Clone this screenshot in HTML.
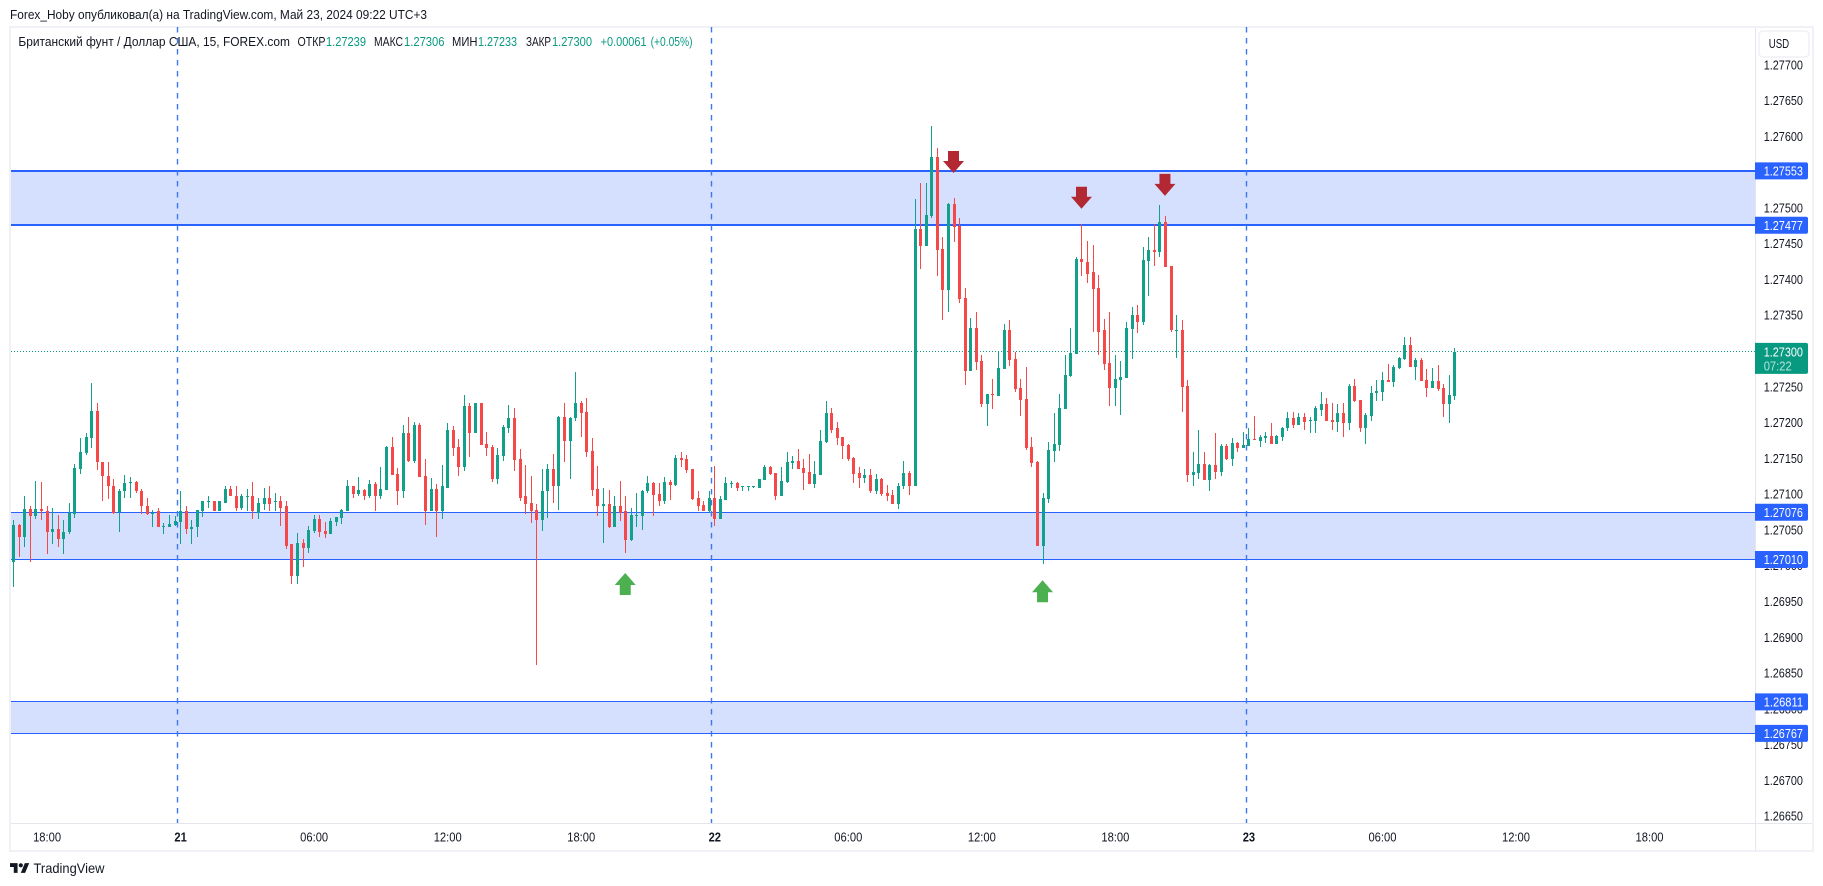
<!DOCTYPE html>
<html lang="ru">
<head>
<meta charset="utf-8">
<title>GBP/USD 15m chart</title>
<style>
html,body{margin:0;padding:0;background:#fff;width:1823px;height:886px;overflow:hidden}
svg{display:block}
text{font-family:"Liberation Sans","Noto Sans CJK SC",sans-serif;font-size:13px;fill:#131722}
</style>
</head>
<body>
<svg id="chart" xmlns="http://www.w3.org/2000/svg" width="1823" height="886" viewBox="0 0 1823 886">
  <rect x="0" y="0" width="1823" height="886" fill="#ffffff"/>
  <text x="10" y="19" textLength="417" lengthAdjust="spacingAndGlyphs">Forex_Hoby опубликовал(а) на TradingView.com, Май 23, 2024 09:22 UTC+3</text>
  <rect x="10" y="27" width="1803" height="824" fill="#ffffff" stroke="#eff1f6" stroke-width="2"/>
  <g id="bands"></g>
  <g id="dayLines"></g>
  <g id="lastLine"></g>
  <g id="candles"></g>
  <g id="arrows"></g>
  <g>
    <text x="18.4" y="46" textLength="271.6" lengthAdjust="spacingAndGlyphs">Британский фунт / Доллар США, 15, FOREX.com</text>
    <text x="297.5" y="46" textLength="28" lengthAdjust="spacingAndGlyphs">ОТКР</text>
    <text x="326" y="46" textLength="40" lengthAdjust="spacingAndGlyphs" style="fill:#089981">1.27239</text>
    <text x="374" y="46" textLength="29" lengthAdjust="spacingAndGlyphs">МАКС</text>
    <text x="404" y="46" textLength="40.5" lengthAdjust="spacingAndGlyphs" style="fill:#089981">1.27306</text>
    <text x="452" y="46" textLength="25.5" lengthAdjust="spacingAndGlyphs">МИН</text>
    <text x="478" y="46" textLength="39" lengthAdjust="spacingAndGlyphs" style="fill:#089981">1.27233</text>
    <text x="526" y="46" textLength="25" lengthAdjust="spacingAndGlyphs">ЗАКР</text>
    <text x="552" y="46" textLength="40" lengthAdjust="spacingAndGlyphs" style="fill:#089981">1.27300</text>
    <text x="600.6" y="46" textLength="46" lengthAdjust="spacingAndGlyphs" style="fill:#089981">+0.00061</text>
    <text x="650.6" y="46" textLength="42" lengthAdjust="spacingAndGlyphs" style="fill:#089981">(+0.05%)</text>
  </g>
  <rect x="1755" y="28" width="57" height="795" fill="#ffffff"/>
  <rect x="1755" y="28" width="1" height="822" fill="#e4e6ec"/>
  <rect x="11" y="823" width="1801" height="1" fill="#e4e6ec"/>
  <g id="priceAxis"></g>
  <g id="priceTags"></g>
  <g id="timeAxis"></g>
  <g>
    <rect x="1759" y="31" width="50" height="26" rx="4" fill="#ffffff" stroke="#e8eaf0"/>
    <text x="1768.7" y="48" textLength="20.5" lengthAdjust="spacingAndGlyphs">USD</text>
  </g>
  <g>
    <path transform="translate(10,861) scale(0.54)" fill="#131722" d="M14 22H7V11H0V4h14v18zM28 22h-8l7.5-18h8L28 22z"/>
    <circle cx="20.8" cy="865.3" r="2.1" fill="#131722"/>
    <text x="33.5" y="873" textLength="71" lengthAdjust="spacingAndGlyphs" style="font-size:14px">TradingView</text>
  </g>
</svg>
<script>
// All OHLC series are in points (0.00001) above the base price 1.27000.
const basePrice = 1.27;
const pointSize = 0.00001;
const highs = [
65,60,98,85,120,118,85,82,72,65,
89,144,180,187,257,228,146,146,123,109,
128,125,120,109,96,79,82,61,72,71,
105,84,65,79,91,98,91,92,112,112,
112,102,109,118,96,110,112,103,98,92,
31,47,39,57,72,72,63,68,70,81,
121,113,125,109,121,118,139,169,181,138,
198,209,202,200,151,124,116,142,201,197,
179,240,229,229,229,188,170,166,198,226,
222,165,142,127,88,137,144,158,211,229,
209,272,232,235,180,141,110,107,98,120,
98,82,103,107,127,118,117,125,121,156,
160,156,137,105,91,105,141,99,125,120,
118,113,113,113,123,142,141,131,139,160,
155,165,151,158,148,191,232,222,202,181,
172,153,139,137,137,130,124,114,107,117,
148,134,513,536,536,616,585,461,508,515,
487,390,348,356,296,241,262,300,339,344,
300,262,279,181,148,103,174,215,241,295,
334,433,479,455,450,408,346,356,295,288,
342,363,366,446,461,479,506,490,420,352,
345,261,160,191,160,144,187,172,172,180,
174,188,193,211,184,188,200,184,195,216,
216,214,214,209,225,244,236,229,227,229,
255,262,233,215,253,261,272,283,282,293,
321,321,292,292,276,278,282,255,268,306];
const lows = [
-28,14,27,7,67,65,17,31,28,18,
45,68,130,156,166,135,92,95,74,48,
96,96,103,74,72,56,55,46,56,57,
31,46,31,42,69,82,77,78,89,98,
77,79,77,67,67,79,78,77,57,25,
-25,-24,0,19,47,42,40,46,57,60,
77,96,98,93,96,77,95,107,128,86,
96,146,145,125,58,77,42,67,110,155,
127,134,153,186,170,155,118,116,148,187,
134,91,74,61,-137,50,68,89,79,146,
123,204,181,153,99,71,33,54,56,64,
19,36,56,51,103,71,85,88,93,113,
139,131,93,78,77,75,57,67,93,110,
105,106,105,110,110,121,128,93,99,117,
137,137,107,116,110,128,173,186,170,151,
148,117,110,117,103,102,99,91,88,81,
109,100,113,416,448,487,406,345,356,453,
369,254,274,275,223,197,220,239,276,281,
244,211,163,139,29,4,89,146,162,220,
265,297,406,397,328,296,275,225,225,212,
264,290,327,338,378,420,433,418,328,292,
216,118,113,123,121,105,123,127,149,141,
160,166,169,177,167,173,172,172,176,190,
193,198,191,187,186,211,204,191,188,181,
191,230,188,172,204,232,232,258,251,276,
289,279,261,260,237,250,246,209,201,233];
const opens = [
6,58,42,81,71,81,78,48,53,39,
48,74,137,159,180,218,146,127,113,76,
105,117,118,106,85,74,77,56,56,58,
63,77,52,55,78,90,91,78,89,109,
99,82,98,99,75,88,96,90,91,84,
31,-13,33,26,50,67,50,46,63,68,
78,112,102,107,98,116,99,107,167,130,
106,187,148,198,127,77,109,78,110,191,
167,139,225,186,228,172,167,123,155,194,
207,151,98,89,79,65,105,137,113,209,
176,207,228,216,162,109,84,88,56,84,
77,37,71,71,105,117,102,91,118,114,
152,151,137,96,86,78,96,67,93,116,
117,111,111,111,110,121,139,131,99,118,
145,148,138,132,116,128,174,214,193,181,
170,152,131,124,128,106,123,103,100,88,
112,131,113,472,448,490,573,444,387,507,
476,376,274,334,288,227,241,239,276,331,
290,250,234,167,146,29,95,162,170,220,
267,297,430,426,411,390,330,285,250,261,
264,332,351,342,427,443,440,482,420,330,
331,253,128,131,144,121,142,132,169,151,
173,166,169,179,176,180,183,172,181,193,
208,198,209,204,204,219,227,205,202,214,
200,253,233,193,211,242,244,261,258,278,
290,310,279,289,261,250,260,250,227,239];
const closes = [
58,42,81,71,81,77,48,53,39,49,
75,138,160,181,218,146,126,112,75,106,
117,118,105,84,74,75,55,57,60,64,
77,52,56,79,91,91,78,91,109,98,
82,99,99,77,89,96,88,91,82,29,
-13,33,26,51,67,49,46,64,70,79,
112,102,107,98,116,99,109,167,128,106,
187,148,198,125,77,109,78,112,191,166,
139,225,186,228,170,166,123,156,195,207,
149,96,88,78,65,106,137,113,209,176,
208,228,215,160,107,84,88,56,84,75,
37,72,72,106,117,100,91,118,114,152,
149,135,95,85,78,96,67,95,117,117,
110,112,112,112,123,139,130,99,120,146,
148,137,131,116,130,176,214,191,180,169,
151,130,124,128,106,123,102,99,88,113,
131,113,472,448,492,573,443,387,507,475,
374,274,334,286,227,241,240,278,331,289,
248,233,166,145,29,96,163,172,222,268,
299,430,425,409,388,328,283,250,262,265,
334,351,342,429,443,440,482,419,330,331,
251,128,132,144,121,142,132,169,151,173,
166,170,179,177,181,183,172,183,194,208,
198,209,202,205,221,227,204,202,214,200,
253,232,193,212,243,246,261,258,279,292,
310,279,289,260,250,260,248,227,240,300];

const priceTicks = ["1.27700","1.27650","1.27600","1.27550","1.27500","1.27450","1.27400","1.27350","1.27300","1.27250","1.27200","1.27150","1.27100","1.27050","1.27000","1.26950","1.26900","1.26850","1.26800","1.26750","1.26700","1.26650"];
const zoneTops = ["1.27553","1.27076","1.26811"];
const zoneBottoms = ["1.27477","1.27010","1.26767"];
const zoneLineWidths = [2,1,1];
const lastPrice = "1.27300";
const lastCountdown = "07:22";
const timeTickLabels = ["18:00","21","06:00","12:00","18:00","22","06:00","12:00","18:00","23","06:00","12:00","18:00"];
const timeTickBars = [6,30,54,78,102,126,150,174,198,222,246,270,294];
const dayTickLabels = ["21","22","23"];
const dayLineBars = [29.4,125.4,221.5];
const downArrowBars = [169,192,207];
const downArrowTips = [1.27550,1.27500,1.27518];
const upArrowBars = [110,185];
const upArrowTips = [1.26991,1.26981];

function xScale(bar){ return 13.7 + bar * 5.564; }
function yScale(price){ return 566.6 - (price - basePrice) * 71560; }
function pointsToPrice(points){ return basePrice + points * pointSize; }

const NS = 'http://www.w3.org/2000/svg';
function make(tag, attrs, parent, content){
  const node = document.createElementNS(NS, tag);
  for (const key in attrs) node.setAttribute(key, attrs[key]);
  if (content !== undefined) node.textContent = content;
  parent.appendChild(node);
  return node;
}

const bandsG = document.getElementById('bands');
zoneTops.forEach(function(top, i){
  const yTop = Math.round(yScale(parseFloat(top)));
  const yBottom = Math.round(yScale(parseFloat(zoneBottoms[i])));
  const w = zoneLineWidths[i];
  const fill = make('rect', {x:11, y:yTop, width:1744, height:yBottom-yTop, fill:'#d4e0fe'}, bandsG);
  
  
  [yTop, yBottom].forEach(function(yy){
    const line = make('rect', {x:11, y:w===2 ? yy-1 : Math.floor(yScale(yy===yTop ? parseFloat(top) : parseFloat(zoneBottoms[i]))), width:1744, height:w, fill:'#2962ff'}, bandsG);
    
    
  });
});

const dayG = document.getElementById('dayLines');
dayLineBars.forEach(function(bar, i){
  const xx = Math.floor(xScale(bar)) + 0.5;
  const line = make('line', {x1:xx, x2:xx, y1:27, y2:823, stroke:'#3b78f0', 'stroke-width':1.4, 'stroke-dasharray':'5.5 5.5'}, dayG);
  
  
});

const lastG = document.getElementById('lastLine');
const lastY = Math.floor(yScale(parseFloat(lastPrice))) + 0.5;
const dotted = make('line', {x1:11, x2:1755, y1:lastY, y2:lastY, stroke:'#089981', 'stroke-width':1, 'stroke-dasharray':'1 2'}, lastG);



const candlesG = document.getElementById('candles');
closes.forEach(function(closeVal, i){
  const openVal = opens[i];
  const color = closeVal >= openVal ? '#12a08a' : '#f54848';
  const cx = Math.floor(xScale(i));
  const yHigh = Math.round(yScale(pointsToPrice(highs[i])));
  const yLow = Math.round(yScale(pointsToPrice(lows[i])));
  const yTop = Math.round(yScale(pointsToPrice(Math.max(openVal, closeVal))));
  const yBot = Math.round(yScale(pointsToPrice(Math.min(openVal, closeVal))));
  const g = make('g', {}, candlesG);
  
  
  const wick = make('rect', {x:cx, y:yHigh, width:1, height:Math.max(1, yLow-yHigh), fill:color}, g);
  
  
  const body = make('rect', {x:cx-1, y:yTop, width:3, height:Math.max(1, yBot-yTop), fill:color}, g);
  
  
});

const arrowsG = document.getElementById('arrows');
downArrowBars.forEach(function(bar, i){
  const cx = xScale(bar) - 0.5;
  const tip = yScale(downArrowTips[i]);
  const pts = [[cx-5.5,tip-22],[cx+5.5,tip-22],[cx+5.5,tip-12],[cx+10.5,tip-12],[cx,tip],[cx-10.5,tip-12],[cx-5.5,tip-12]].map(function(p){return p.join(',');}).join(' ');
  const arrow = make('polygon', {points:pts, fill:'#b22833'}, arrowsG);
  
  
});
upArrowBars.forEach(function(bar, i){
  const cx = xScale(bar) - 0.5;
  const tip = yScale(upArrowTips[i]);
  const pts = [[cx-5.5,tip+22],[cx+5.5,tip+22],[cx+5.5,tip+12],[cx+10.5,tip+12],[cx,tip],[cx-10.5,tip+12],[cx-5.5,tip+12]].map(function(p){return p.join(',');}).join(' ');
  const arrow = make('polygon', {points:pts, fill:'#4caf50'}, arrowsG);
  
  
});

const priceAxisG = document.getElementById('priceAxis');
priceTicks.forEach(function(label){
  const t = make('text', {x:1763.7, y:yScale(parseFloat(label))+3.6, textLength:39.3, lengthAdjust:'spacingAndGlyphs'}, priceAxisG, label);
  
  
});

const tagsG = document.getElementById('priceTags');
function tagPath(top, h){
  return 'M1755 ' + top + 'H1806a2 2 0 0 1 2 2V' + (top+h-2) + 'a2 2 0 0 1 -2 2H1755Z';
}
zoneTops.concat(zoneBottoms).forEach(function(label){
  const cy = yScale(parseFloat(label));
  const box = make('path', {d:tagPath(cy-8.5, 17), fill:'#2962ff'}, tagsG);
  
  
  const t = make('text', {x:1763.7, y:cy+4.6, textLength:39.3, lengthAdjust:'spacingAndGlyphs', style:'fill:#ffffff'}, tagsG, label);
  
  
});
const lastCy = yScale(parseFloat(lastPrice));
const lastBox = make('path', {d:tagPath(lastCy-9, 31), fill:'#089981'}, tagsG);


const lastText = make('text', {x:1763.7, y:lastCy+4.4, textLength:39.3, lengthAdjust:'spacingAndGlyphs', style:'fill:#ffffff'}, tagsG, lastPrice);


const countdownText = make('text', {x:1763.7, y:lastCy+18.8, textLength:28, lengthAdjust:'spacingAndGlyphs', style:'fill:#b5e3da'}, tagsG, lastCountdown);



const timeG = document.getElementById('timeAxis');
timeTickLabels.forEach(function(label, i){
  const isDay = label.indexOf(':') < 0;
  const t = make('text', {x:xScale(timeTickBars[i]), y:841.4, 'text-anchor':'middle', textLength:isDay ? 12.4 : 28, lengthAdjust:'spacingAndGlyphs', style:isDay ? 'font-weight:700' : ''}, timeG, label);
  
  
});
</script>
</body>
</html>
